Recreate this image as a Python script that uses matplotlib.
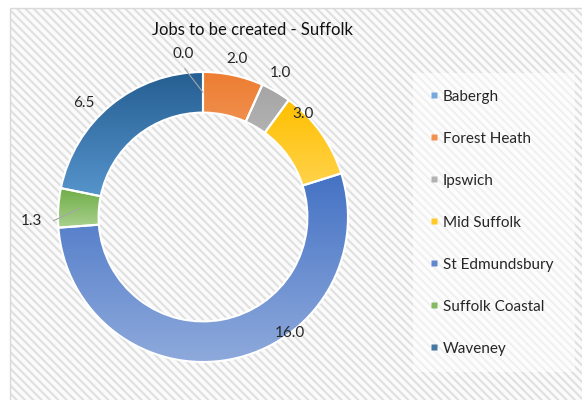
import numpy as np
import matplotlib.pyplot as plt
from matplotlib.colors import LinearSegmentedColormap, to_rgb
from matplotlib.lines import Line2D
from matplotlib.patches import Rectangle

plt.rcParams['font.family'] = ['Lato', 'DejaVu Sans']
plt.rcParams['hatch.linewidth'] = 1.5

districts = ["Babergh", "Forest Heath", "Ipswich", "Mid Suffolk",
             "St Edmundsbury", "Suffolk Coastal", "Waveney"]
jobs = [0.0, 2.0, 1.0, 3.0, 16.0, 1.3, 6.5]
base_colors = ["#5B9BD5", "#ED7D31", "#A5A5A5", "#FFC000",
               "#4472C4", "#70AD47", "#255E91"]
# bottom colour of each slice's vertical gradient
light_colors = ["#9DC3E6", "#F4B183", "#C9C9C9", "#FFD966",
                "#8FAADC", "#A9D18E", "#5E9DD6"]

# label placement (angle shift from slice middle, radius), Excel "best fit" look
label_shift = [-7, 0, -2, -10, -26, -5, -7]
label_r = [1.13, 1.115, 1.125, 0.99, 1.0, 1.18, 1.14]
leader = [True, False, False, False, False, True, False]


def lighter(c, f):
    r, g, b = to_rgb(c)
    return (r + (1 - r) * f, g + (1 - g) * f, b + (1 - b) * f)


fig = plt.figure(figsize=(5.82, 4.0), dpi=100)

# patterned chart area
area = (10 / 582, -0.01)
aw, ah = 1.0, 1 - 8 / 400 + 0.01
fig.patches.append(Rectangle(area, aw, ah, transform=fig.transFigure,
                             facecolor="#fbfbfb", edgecolor="#e0e0e0",
                             hatch="\\\\\\\\", linewidth=0, zorder=-2))
fig.patches.append(Rectangle(area, aw, ah, transform=fig.transFigure,
                             facecolor="none", edgecolor="#d9d9d9",
                             linewidth=1.0, zorder=-1))

# axes scaled so the donut centre sits at (203, 217) px with radius 145 px
ax = fig.add_axes([0, 0, 1, 1])
ax.set_axis_off()
ax.patch.set_visible(False)
xlim = (-203 / 145, (582 - 203) / 145)
ylim = (-(400 - 217) / 145, 217 / 145)

wedges, _ = ax.pie(jobs, radius=1.0, startangle=90, counterclock=False,
                   colors=base_colors,
                   wedgeprops=dict(width=0.28, edgecolor="white", linewidth=1.5))

# vertical gradient per slice
grad = np.linspace(0, 1, 256).reshape(-1, 1)
for w, c, lc in zip(wedges, base_colors, light_colors):
    v = w.get_path().vertices
    if len(v) == 0:
        continue
    x0, x1 = v[:, 0].min(), v[:, 0].max()
    y0, y1 = v[:, 1].min(), v[:, 1].max()
    if x1 - x0 < 1e-6 or y1 - y0 < 1e-6:
        continue
    cmap = LinearSegmentedColormap.from_list("g", [c, lc])
    im = ax.imshow(grad, extent=[x0, x1, y0, y1], cmap=cmap, aspect="auto",
                   origin="upper", zorder=1.5, interpolation="bilinear")
    im.set_clip_path(w)
    w.set_facecolor("none")
    w.set_zorder(2)

ax.set_xlim(xlim)
ax.set_ylim(ylim)

# data labels
total = sum(jobs)
cum = np.cumsum([0] + jobs)
for i, val in enumerate(jobs):
    mid = (cum[i] + cum[i + 1]) / 2 / total * 360
    a = np.deg2rad(mid + label_shift[i])
    lx, ly = label_r[i] * np.sin(a), label_r[i] * np.cos(a)
    ax.text(lx, ly, f"{val:.1f}", ha="center", va="center", fontsize=11,
            color="#262626", zorder=5)
    if leader[i]:
        am = np.deg2rad(mid)
        ax.plot([1.03 * np.sin(a), 0.86 * np.sin(am)],
                [1.03 * np.cos(a), 0.86 * np.cos(am)],
                color="#a6a6a6", lw=0.8, zorder=4)

fig.text(252 / 582, 1 - 30 / 400, "Jobs to be created - Suffolk", ha="center",
         va="center", fontsize=12, color="#111111")

handles = [Line2D([], [], marker="s", linestyle="none", markersize=5,
                  markerfacecolor=lighter(c, 0.15), markeredgecolor="none")
           for c in base_colors]
leg = fig.legend(handles, districts, loc="upper left",
                 bbox_to_anchor=(413 / 582, 1 - 73 / 400, 162 / 582, 0.0),
                 mode="expand", frameon=True, fancybox=False, fontsize=11,
                 labelspacing=1.83, borderpad=1.1, handletextpad=0.37,
                 handlelength=0.5, borderaxespad=0)
leg.get_frame().set_facecolor("white")
leg.get_frame().set_alpha(0.55)
leg.get_frame().set_edgecolor("none")
for t in leg.get_texts():
    t.set_color("#262626")

fig.savefig("out.png", dpi=100)
